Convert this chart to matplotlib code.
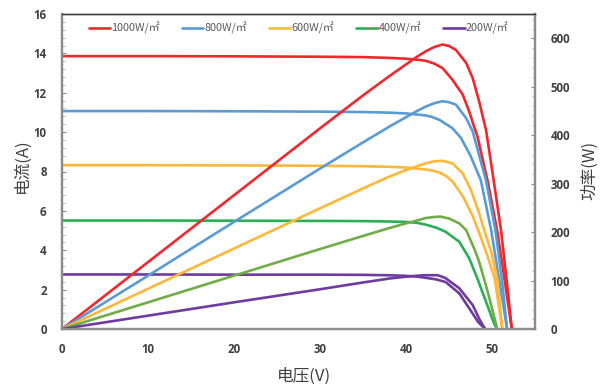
import matplotlib
matplotlib.use("Agg")
import matplotlib.pyplot as plt
from matplotlib.ticker import MultipleLocator

# ---------------- data ----------------
labels = ["1000W/㎡", "800W/㎡", "600W/㎡", "400W/㎡", "200W/㎡"]

# I-V curves (voltage V, current A)
v_1000 = [0, 10, 20, 30, 35, 38, 40, 41.5, 42.3, 43.3, 44.25, 45.4, 46.6, 47.35, 47.9, 48.3, 49.5, 50.6, 51.5, 52.3]
i_1000 = [13.86, 13.86, 13.85, 13.83, 13.81, 13.77, 13.73, 13.67, 13.62, 13.48, 13.25, 12.66, 11.9, 11.05, 10.3, 9.8, 7.5, 5.0, 2.4, 0]
v_800 = [0, 10, 20, 30, 35, 38, 40, 42.3, 43.1, 43.9, 45.4, 46.4, 47.5, 48.7, 49.9, 50.8, 51.75]
i_800 = [11.07, 11.07, 11.06, 11.04, 11.02, 10.99, 10.95, 10.85, 10.76, 10.62, 10.2, 9.7, 8.8, 7.56, 5.03, 2.6, 0]
v_600 = [0, 10, 20, 30, 35, 38, 40, 42.3, 43.1, 43.9, 44.7, 45.4, 46.6, 47.75, 48.5, 49.4, 50.3, 51.2]
i_600 = [8.32, 8.32, 8.31, 8.29, 8.27, 8.24, 8.2, 8.1, 8.04, 7.95, 7.76, 7.5, 6.75, 5.75, 4.9, 3.8, 2.6, 0]
v_400 = [0, 10, 20, 30, 35, 38, 40, 41.3, 42.3, 43.5, 44.6, 46.2, 47.35, 48.3, 49.3, 50.27, 50.6]
i_400 = [5.51, 5.51, 5.5, 5.49, 5.48, 5.46, 5.44, 5.39, 5.3, 5.15, 4.94, 4.43, 3.59, 2.57, 1.39, 0.25, 0]
v_200 = [0, 10, 20, 30, 35, 38, 40, 41.3, 42.3, 43.5, 44.6, 46.2, 47.35, 48.4, 49.2]
i_200 = [2.77, 2.77, 2.76, 2.76, 2.75, 2.73, 2.7, 2.66, 2.6, 2.52, 2.39, 1.81, 1.05, 0.35, 0]

# P-V curves (voltage V, power W)
pv_1000 = [0, 10, 20, 30, 35, 38, 40, 41.3, 42.3, 43.3, 44.25, 45.0, 45.8, 47.0, 47.75, 48.5, 49.3, 50.0, 51.05, 51.8, 52.3]
p_1000 = [0, 138, 276, 414, 482, 521, 546, 562, 573, 582, 587, 584, 576, 549, 518, 470, 411, 330, 204, 85, 0]
pv_800 = [0, 10, 20, 30, 35, 38, 40, 41.3, 42.3, 43.3, 44.25, 45.0, 45.8, 47.0, 47.75, 48.5, 49.3, 50.4, 51.2, 51.75]
p_800 = [0, 110, 221, 331, 385, 417, 437, 450, 459, 466, 470, 468, 463, 435, 408, 359, 307, 204, 95, 0]
pv_600 = [0, 10, 20, 30, 35, 38, 40, 41.3, 42.3, 43.3, 44.25, 45.4, 46.6, 47.55, 48.5, 49.1, 49.9, 50.6, 51.2]
p_600 = [0, 83, 166, 249, 290, 314, 328, 336, 342, 346, 347, 342, 321, 287, 239, 204, 160, 105, 0]
pv_400 = [0, 10, 20, 30, 35, 38, 40, 41.3, 42.3, 43.2, 44.0, 45.0, 46.2, 47.0, 48.0, 48.5, 49.5, 50.5, 50.6]
p_400 = [0, 55, 110, 165, 192, 208, 218, 224, 229, 231, 232, 228, 218, 204, 163, 139, 77, 8, 0]
pv_200 = [0, 10, 20, 30, 35, 38, 40, 41.3, 42.3, 43.7, 44.6, 46.2, 47.75, 48.6, 49.2]
p_200 = [0, 27.5, 55, 82, 96, 104, 108, 110, 111, 111, 105, 84, 49.5, 18, 0]

x_ticks = [0, 10, 20, 30, 40, 50]
y_ticks = [0, 2, 4, 6, 8, 10, 12, 14, 16]
p_ticks = [0, 100, 200, 300, 400, 500, 600]

# ---------------- style ----------------
iv_colors = ["#F0282D", "#5B9BD5", "#FDB73A", "#2BAF55", "#6E3CA0"]
pv_colors = ["#F0282D", "#5B9BD5", "#FDB73A", "#70AD47", "#6E3CA0"]
lw = 1.9
txt_col = "#404040"
cjk = ["Noto Sans CJK SC", "DejaVu Sans"]

fig = plt.figure(figsize=(6.01, 3.84), dpi=100)
ax = fig.add_axes([62/601, 55/384, 473/601, 315/384])
ax2 = ax.twinx()

iv = [(v_1000, i_1000), (v_800, i_800), (v_600, i_600), (v_400, i_400), (v_200, i_200)]
pv = [(pv_1000, p_1000), (pv_800, p_800), (pv_600, p_600), (pv_400, p_400), (pv_200, p_200)]

handles = []
for (vv, ii), c, lab in zip(iv, iv_colors, labels):
    h, = ax.plot(vv, ii, color=c, lw=lw, solid_joinstyle="round", solid_capstyle="round", label=lab)
    handles.append(h)
for (vv, pp), c in zip(pv, pv_colors):
    ax2.plot(vv, pp, color=c, lw=lw, solid_joinstyle="round", solid_capstyle="round")

ax.set_xlim(0, 55)
ax.set_ylim(0, 16)
ax2.set_ylim(0, 650)
ax.set_xticks(x_ticks)
ax.set_yticks(y_ticks)
ax2.set_yticks(p_ticks)
ax.yaxis.set_minor_locator(MultipleLocator(0.4))
ax2.yaxis.set_minor_locator(MultipleLocator(20))

for a in (ax, ax2):
    for s in a.spines.values():
        s.set_color("#8C8C8C")
        s.set_linewidth(1.6)
    a.spines["top"].set_color("#404040")
    a.spines["top"].set_linewidth(1.0)

ax.tick_params(axis="x", length=0, pad=10)
ax.tick_params(axis="y", which="major", direction="in", length=3, color="#8C8C8C", pad=11)
ax.tick_params(axis="y", which="minor", direction="in", length=2, color="#B0B0B0")
ax2.tick_params(axis="y", which="major", direction="in", length=3, color="#8C8C8C", pad=11)
ax2.tick_params(axis="y", which="minor", direction="in", length=2, color="#B0B0B0")
for lbl in ax.get_xticklabels() + ax.get_yticklabels() + ax2.get_yticklabels():
    lbl.set_fontfamily("Open Sans")
    lbl.set_fontweight("bold")
    lbl.set_fontsize(8.3)
    lbl.set_color(txt_col)

leg = ax.legend(handles=handles, loc="upper center", bbox_to_anchor=(0.5, 1.005), ncol=5,
                frameon=False, handlelength=2.0, handletextpad=0.1, columnspacing=2.0,
                prop=dict(family=cjk, size=7.8))
for t in leg.get_texts():
    t.set_color("#595959")

fig.text(304/601, 1 - 376/384, "电压(V)", family=cjk, fontsize=12, color=txt_col,
         ha="center", va="center")
fig.text(22/601, 1 - 166/384, "电流(A)", family=cjk, fontsize=12, color=txt_col,
         ha="center", va="center", rotation=90)
fig.text(590/601, 1 - 170/384, "功率(W)", family=cjk, fontsize=12, color=txt_col,
         ha="center", va="center", rotation=90)

fig.savefig("out.png", dpi=100)
